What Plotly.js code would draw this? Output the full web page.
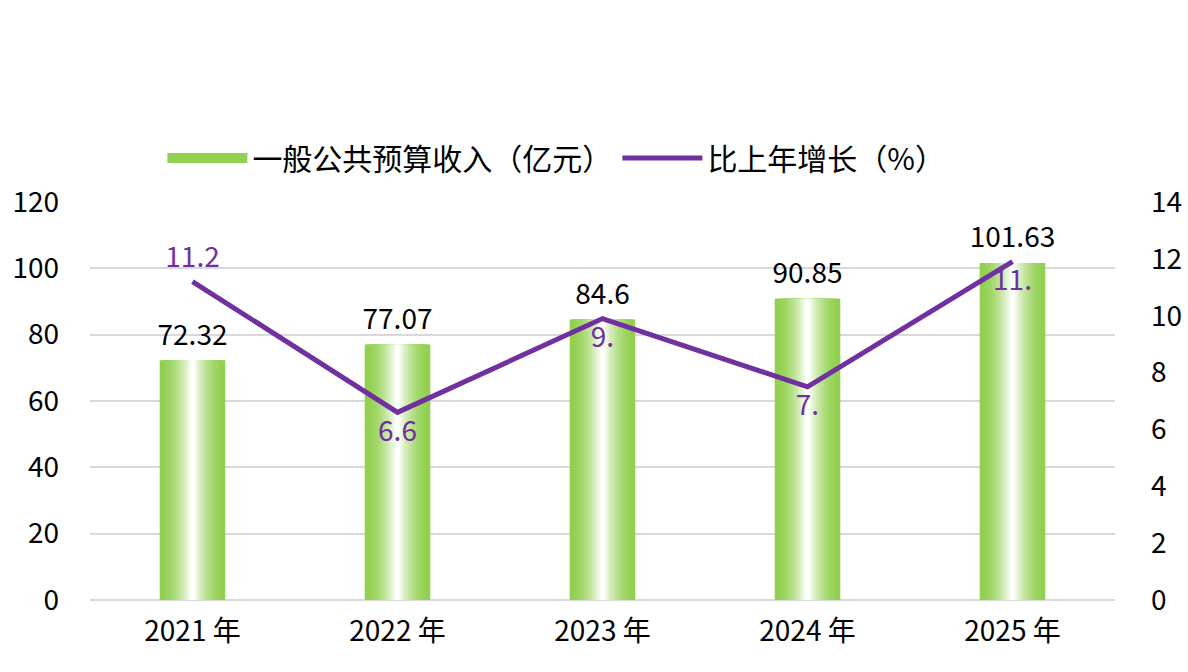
<!DOCTYPE html>
<html>
<head>
<meta charset="utf-8">
<script src="https://cdn.plot.ly/plotly-3.0.1.min.js"></script>
<style>
  html, body { margin: 0; padding: 0; background: white; }
  #chart { width: 1188px; height: 672px; }
</style>
</head>
<body>
<div id="chart"></div>
<script>
var years = ['2021 年', '2022 年', '2023 年', '2024 年', '2025 年'];
var revenue = [72.32, 77.07, 84.6, 90.85, 101.63];
var revenueLabels = ['72.32', '77.07', '84.6', '90.85', '101.63'];
var growth = [11.2, 6.6, 9.9, 7.5, 11.9];
var growthLabels = ['11.2', '6.6', '9.', '7.', '11.'];
var growthPos = ['top center', 'bottom center', 'bottom center', 'bottom center', 'bottom center'];

var font = '"Noto Sans CJK SC", "Noto Sans", sans-serif';
var green = '#92D050';
var purple = '#7030A0';

// Fake a horizontal green-white-green gradient with stacked narrowing bars
var traces = [];
var steps = 16;
var fullWidth = 0.32;
for (var k = 0; k < steps; k++) {
  var t = k / (steps - 1);
  var f = Math.pow(t, 1.8);
  var r = Math.round(146 + (255 - 146) * f);
  var g = Math.round(208 + (255 - 208) * f);
  var b = Math.round(80 + (255 - 80) * f);
  traces.push({
    x: years, y: revenue,
    type: 'bar',
    width: fullWidth * (1 - k / steps),
    showlegend: false,
    hoverinfo: 'skip',
    marker: { color: 'rgb(' + r + ',' + g + ',' + b + ')', line: { width: 0 } }
  });
}

// bar value labels
traces.push({
  x: years, y: revenue,
  type: 'scatter', mode: 'markers+text',
  showlegend: false,
  marker: { size: 12, opacity: 0 },
  text: revenueLabels,
  textposition: 'top center',
  cliponaxis: false,
  textfont: { family: font, size: 28, color: '#000' }
});

// legend entry for the bars
traces.push({
  x: years, y: [null, null, null, null, null],
  type: 'scatter', mode: 'lines',
  name: '一般公共预算收入（亿元）',
  line: { color: green, width: 18 }
});

traces.push({
  x: years, y: growth,
  type: 'scatter', mode: 'lines',
  yaxis: 'y2',
  name: '比上年增长（%）',
  line: { color: purple, width: 5 }
});

// growth labels, offset by invisible markers
traces.push({
  x: years, y: growth,
  type: 'scatter', mode: 'markers+text',
  yaxis: 'y2',
  showlegend: false,
  marker: { size: 10, opacity: 0 },
  text: growthLabels,
  textposition: growthPos,
  cliponaxis: false,
  textfont: { family: font, size: 28, color: purple }
});

var layout = {
  width: 1188, height: 672,
  plot_bgcolor: 'white', paper_bgcolor: 'white',
  barmode: 'overlay',
  margin: { l: 90, r: 73, t: 202, b: 72 },
  font: { family: font, color: '#000', size: 24 },
  showlegend: true,
  legend: { orientation: 'h', x: 0.455, xanchor: 'center', y: 1.045, yanchor: 'bottom',
            font: { size: 30 }, itemwidth: 80, traceorder: 'normal' },
  xaxis: { type: 'category', showgrid: false, showline: false, ticks: '',
           ticklabelstandoff: 12, tickfont: { size: 28 } },
  yaxis: { range: [0, 120], dtick: 20, gridcolor: '#d9d9d9', gridwidth: 2,
           zeroline: true, zerolinecolor: '#d9d9d9', zerolinewidth: 2,
           showline: false, ticks: '', ticklabelstandoff: 30, tickfont: { size: 28 } },
  yaxis2: { overlaying: 'y', side: 'right', range: [0, 14], dtick: 2,
            showgrid: false, zeroline: false, showline: false, ticks: '',
            ticklabelstandoff: 35, tickfont: { size: 28 } }
};

Plotly.newPlot('chart', traces, layout, { staticPlot: true });
</script>
</body>
</html>
